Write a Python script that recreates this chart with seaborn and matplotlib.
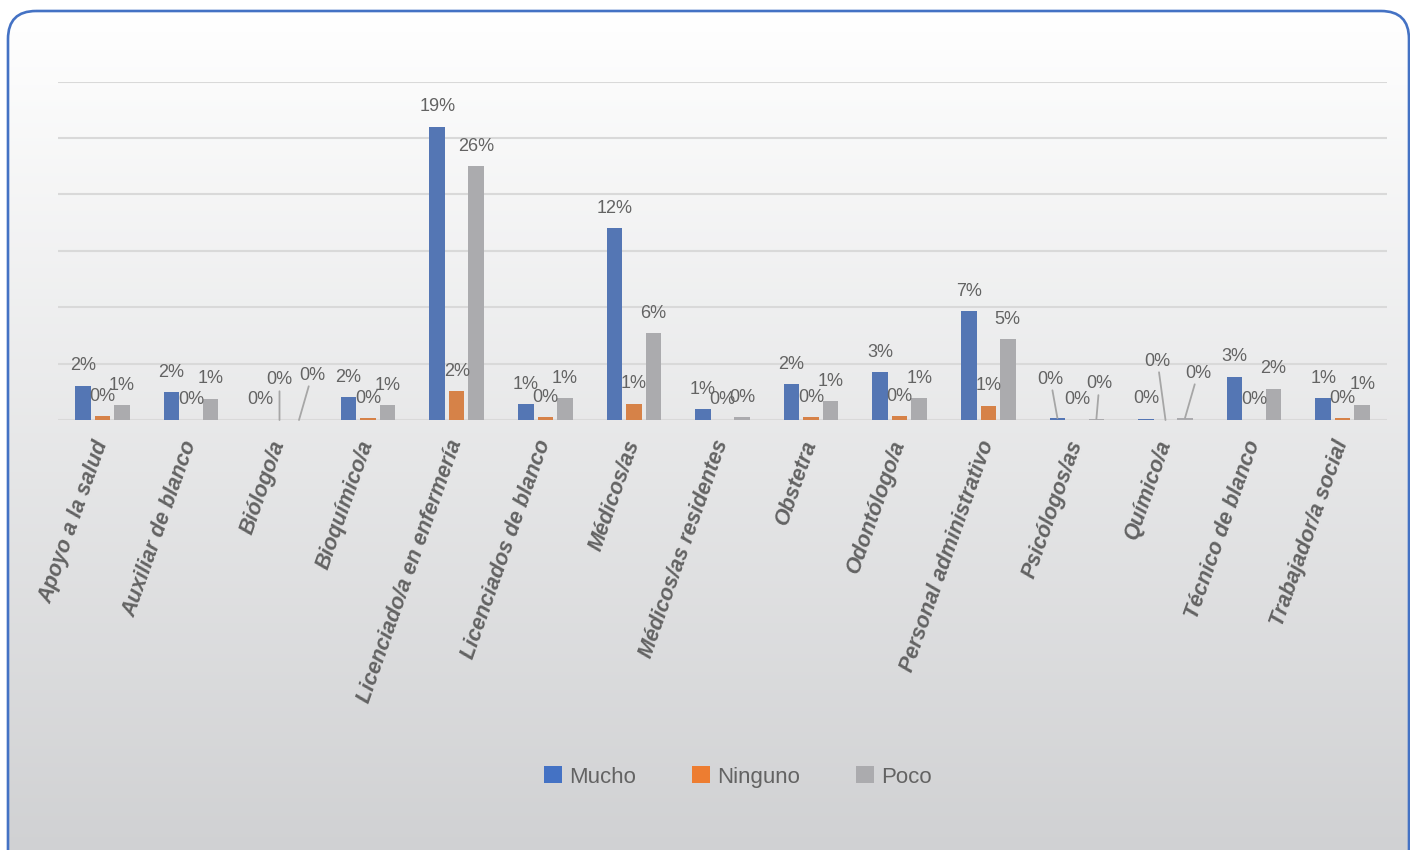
import numpy as np
import pandas as pd
import matplotlib.pyplot as plt
import seaborn as sns
from matplotlib.patches import FancyBboxPatch, Patch
from matplotlib.colors import LinearSegmentedColormap

plt.rcParams['font.family'] = ['Liberation Sans', 'DejaVu Sans']

# datos (altura de barras en unidades de la grilla)
categorias = ['Apoyo a la salud', 'Auxiliar de blanco', 'Biólogo/a', 'Bioquímico/a',
              'Licenciado/a en enfermería', 'Licenciados de blanco', 'Médicos/as',
              'Médicos/as residentes', 'Obstetra', 'Odontólogo/a',
              'Personal administrativo', 'Psicólogos/as', 'Químico/a',
              'Técnico de blanco', 'Trabajador/a social']
series = ['Mucho', 'Ninguno', 'Poco']

mucho = [0.61, 0.49, 0.0, 0.40, 5.20, 0.275, 3.40, 0.19, 0.63, 0.85, 1.93, 0.035, 0.02, 0.77, 0.39]
ninguno = [0.07, 0.0, 0.0, 0.035, 0.51, 0.047, 0.29, 0.0, 0.05, 0.07, 0.25, 0.0, 0.0, 0.0, 0.035]
poco = [0.26, 0.38, 0.0, 0.26, 4.50, 0.386, 1.54, 0.05, 0.33, 0.39, 1.43, 0.02, 0.035, 0.55, 0.27]

etiq_mucho = ['2%', '2%', '0%', '2%', '19%', '1%', '12%', '1%', '2%', '3%', '7%', '0%', '0%', '3%', '1%']
etiq_ninguno = ['0%', '0%', '0%', '0%', '2%', '0%', '1%', '0%', '0%', '0%', '1%', '0%', '0%', '0%', '0%']
etiq_poco = ['1%', '1%', '0%', '1%', '26%', '1%', '6%', '0%', '1%', '1%', '5%', '0%', '0%', '2%', '1%']

colores = ['#4472C4', '#ED7D31', '#ABABAE']
gris_texto = '#636363'

# etiquetas movidas con linea guia, desplazamiento en px (dx, dy hacia arriba)
movidas = {('Biólogo/a', 'Ninguno'): (0, 20),
           ('Biólogo/a', 'Poco'): (13, 25),
           ('Psicólogos/as', 'Mucho'): (-7, 19),
           ('Psicólogos/as', 'Poco'): (3, 15),
           ('Químico/a', 'Ninguno'): (-8, 39),
           ('Químico/a', 'Poco'): (13, 25)}

df = pd.DataFrame({'Categoria': categorias * 3,
                   'Serie': np.repeat(series, len(categorias)),
                   'Valor': mucho + ninguno + poco})
etiquetas = [etiq_mucho, etiq_ninguno, etiq_poco]

fig = plt.figure(figsize=(14.1, 8.5), dpi=100)

# fondo con degradado y borde redondeado
bg = fig.add_axes([0, 0, 1, 1])
bg.set_xlim(0, 1410)
bg.set_ylim(850, 0)
bg.axis('off')
caja = FancyBboxPatch((8, 11), 1401, 900, boxstyle='round,pad=0,rounding_size=28',
                      ec='#4472C4', lw=1.9, fc='none', zorder=3)
bg.add_patch(caja)
cmap_bg = LinearSegmentedColormap.from_list('bg', ['#FFFFFF', '#CDCED0'])
grad = np.linspace(0, 1, 256).reshape(-1, 1)
im = bg.imshow(grad, extent=[8, 1409, 911, 11], aspect='auto', cmap=cmap_bg, zorder=1)
im.set_clip_path(caja)

ax = fig.add_axes([58 / 1410, 1 - 420 / 850, (1387 - 58) / 1410, (420 - 81.7) / 850])
ax.set_facecolor('none')
sns.barplot(data=df, x='Categoria', y='Valor', hue='Serie', palette=colores,
            width=0.66, gap=0.2, linewidth=0, legend=False, ax=ax)

ax.set_ylim(0, 6)
ax.set_yticks(range(7))
ax.set_yticklabels([])
ax.tick_params(axis='both', length=0)
ax.grid(axis='y', color='#D9D9D9', lw=1.5)
ax.set_axisbelow(True)
for s in ax.spines.values():
    s.set_visible(False)
ax.set_xlabel('')
ax.set_ylabel('')
ax.set_xticks(range(len(categorias)))
ax.set_xticklabels(categorias, rotation=70.5, ha='right', va='center', rotation_mode='anchor',
                   fontstyle='italic', fontweight='bold', color=gris_texto, fontsize=15.5)
ax.tick_params(axis='x', pad=15)

# etiquetas de datos
for i, cont in enumerate(ax.containers):
    for j, bar in enumerate(cont):
        x = bar.get_x() + bar.get_width() / 2
        y = bar.get_height()
        dx, dy = movidas.get((categorias[j], series[i]), (0, 0))
        kw = {}
        if (categorias[j], series[i]) in movidas:
            kw['arrowprops'] = dict(arrowstyle='-', color='#A6A6A6', lw=1.3, shrinkA=0, shrinkB=0)
        ax.annotate(etiquetas[i][j], xy=(x, y), xytext=(dx * 0.72, (20 + dy) * 0.72),
                    textcoords='offset points', ha='center', va='center',
                    fontsize=13, color=gris_texto, annotation_clip=False, **kw)

handles = [Patch(facecolor=c, edgecolor='none') for c in colores]
fig.legend(handles, series, loc='center', bbox_to_anchor=(738 / 1410, 1 - 777 / 850),
           ncol=3, frameon=False, fontsize=16, handlelength=0.8, handleheight=0.8,
           handletextpad=0.35, columnspacing=2.5, labelcolor=gris_texto)

fig.savefig('out.png', dpi=100)
